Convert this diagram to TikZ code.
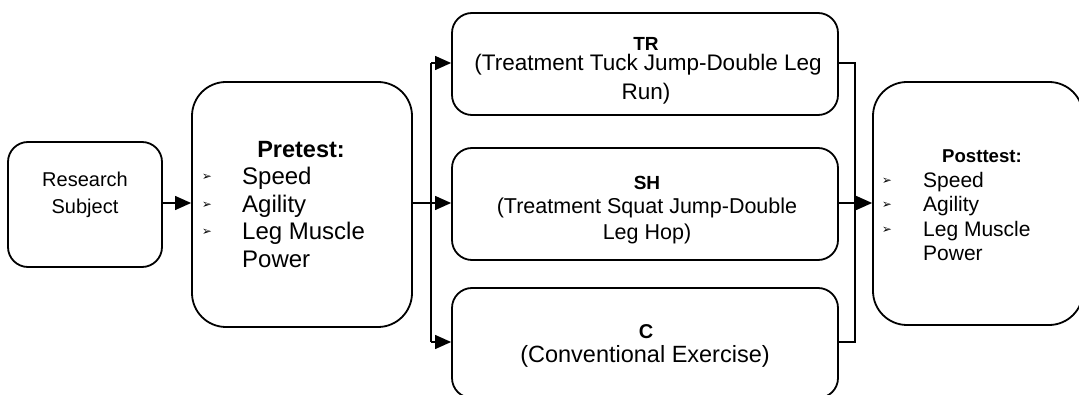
\documentclass[tikz,border=0pt]{standalone}
\usepackage{fontspec}
\setmainfont{Liberation Sans}
\newfontfamily\dvfont{DejaVu Sans}
\usetikzlibrary{arrows.meta}
\begin{document}
\begin{tikzpicture}[x=1pt,y=-1pt,
  box/.style={draw, line width=1.8pt, rounded corners=#1, inner sep=0pt},
  conn/.style={line width=1.2pt},
  arr/.style={conn, -{Triangle[length=16pt,width=14pt]}},
  txt/.style={inner sep=0pt, anchor=base},
  itm/.style={inner sep=0pt, anchor=base west},
  bul/.style={inner sep=0pt, anchor=center, font=\dvfont\fontsize{12}{12}\selectfont}
]
\useasboundingbox (0,0) rectangle (1079,395);
\clip (0,0) rectangle (1079,395);

% boxes
\node[box=20pt, minimum width=154pt, minimum height=125pt] (rs) at (85,204.5) {};
\node[box=34pt, minimum width=220pt, minimum height=245pt] (pre) at (302,204.5) {};
\node[box=20pt, minimum width=386pt, minimum height=102pt] (tr) at (645,64) {};
\node[box=20pt, minimum width=386pt, minimum height=112pt] (sh) at (645,204) {};
\node[box=20pt, minimum width=386pt, minimum height=110pt] (c) at (645,343) {};
\node[box=34pt, minimum width=210pt, minimum height=243pt] (post) at (978,203.5) {};

% research subject text
\node[txt, font=\fontsize{20}{24}\selectfont] (rs1) at (85,187) {Research};
\node[txt, font=\fontsize{20}{24}\selectfont] (rs2) at (85,214) {Subject};

% pretest text
\node[txt, font=\bfseries\fontsize{23.5}{28}\selectfont] (preh) at (301,158) {Pretest:};
\node[itm, font=\fontsize{24}{28}\selectfont] (pre1) at (242,185) {Speed};
\node[itm, font=\fontsize{24}{28}\selectfont] (pre2) at (242,213) {Agility};
\node[itm, font=\fontsize{24}{28}\selectfont] (pre3) at (242,240) {Leg Muscle};
\node[itm, font=\fontsize{24}{28}\selectfont] (pre4) at (242,268) {Power};
\node[bul] (pb1) at (207,177) {➢};
\node[bul] (pb2) at (207,205) {➢};
\node[bul] (pb3) at (207,232) {➢};

% TR text
\node[txt, font=\bfseries\fontsize{19}{22}\selectfont] (trh) at (646,51) {TR};
\node[txt, font=\fontsize{22.5}{28}\selectfont] (tr1) at (648,71) {(Treatment Tuck Jump-Double Leg};
\node[txt, font=\fontsize{22.5}{28}\selectfont] (tr2) at (646,100) {Run)};

% SH text
\node[txt, font=\bfseries\fontsize{19}{22}\selectfont] (shh) at (647,190) {SH};
\node[txt, font=\fontsize{21.5}{26}\selectfont] (sh1) at (647,214) {(Treatment Squat Jump-Double};
\node[txt, font=\fontsize{21.5}{26}\selectfont] (sh2) at (647,240) {Leg Hop)};

% C text
\node[txt, font=\bfseries\fontsize{20}{24}\selectfont] (ch) at (646,338) {C};
\node[txt, font=\fontsize{23.5}{28}\selectfont] (c1) at (645,362) {(Conventional Exercise)};

% posttest text
\node[txt, font=\bfseries\fontsize{18.6}{22}\selectfont] (posth) at (982,163) {Posttest:};
\node[itm, font=\fontsize{21}{24}\selectfont] (post1) at (923,188) {Speed};
\node[itm, font=\fontsize{21}{24}\selectfont] (post2) at (923,212) {Agility};
\node[itm, font=\fontsize{21}{24}\selectfont] (post3) at (923,237) {Leg Muscle};
\node[itm, font=\fontsize{21}{24}\selectfont] (post4) at (923,261) {Power};
\node[bul] (qb1) at (887,181) {➢};
\node[bul] (qb2) at (887,205) {➢};
\node[bul] (qb3) at (887,230) {➢};

% junctions
\coordinate (jl) at (431,203);
\coordinate (jr) at (855,203);

% connectors
\draw[arr] (rs.east |- 0,203) -- (pre.west |- 0,203);
\draw[conn] (pre.east |- jl) -- (jl);
\draw[conn] (jl |- 0,63) -- (jl |- 0,342);
\draw[arr] (jl |- 0,63) -- (tr.west |- 0,63);
\draw[arr] (jl) -- (sh.west |- jl);
\draw[arr] (jl |- 0,342) -- (c.west |- 0,342);

\draw[conn] (tr.east |- 0,63) -- (jr |- 0,63) -- (jr |- 0,342) -- (c.east |- 0,342);
\draw[conn] (sh.east |- jr) -- (jr);
\draw[arr] (jr) -- (post.west |- jr);
\end{tikzpicture}
\end{document}
